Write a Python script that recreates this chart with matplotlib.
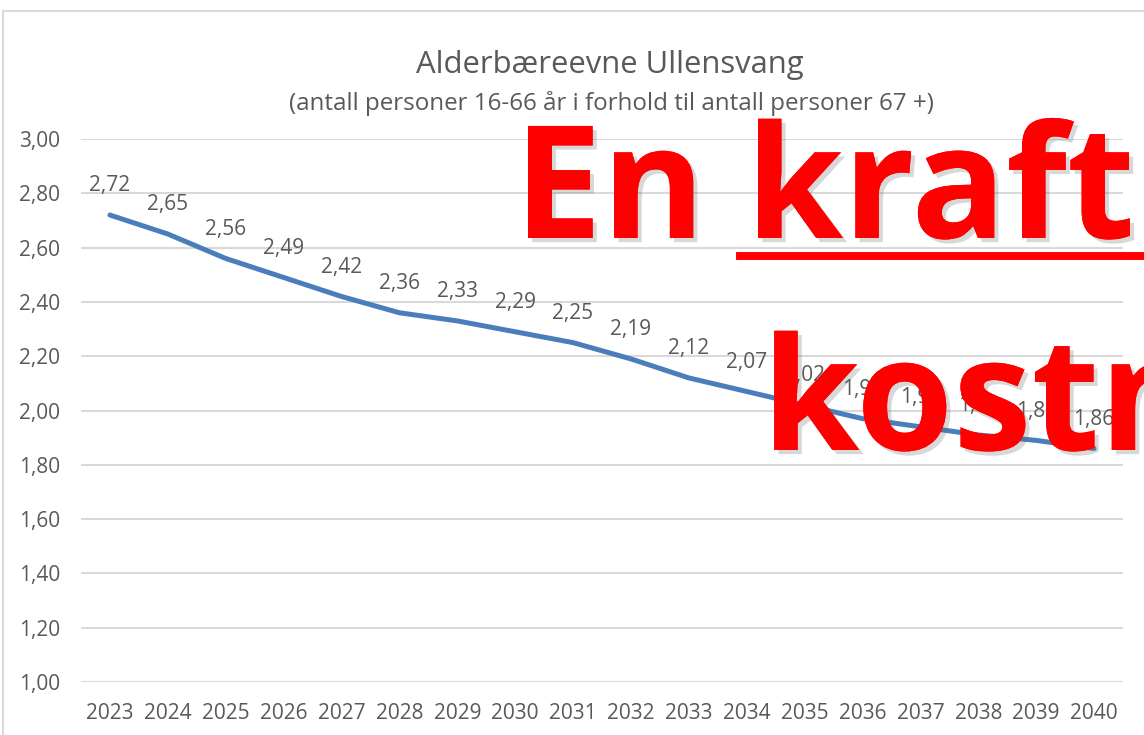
import numpy as np
import matplotlib
matplotlib.use("Agg")
from matplotlib import pyplot as plt
from matplotlib import patheffects as pe
from matplotlib.lines import Line2D
from matplotlib.patches import Rectangle

# data
years = [2023, 2024, 2025, 2026, 2027, 2028, 2029, 2030, 2031, 2032,
         2033, 2034, 2035, 2036, 2037, 2038, 2039, 2040]
ratio = [2.72, 2.65, 2.56, 2.49, 2.42, 2.36, 2.33, 2.29, 2.25, 2.19,
         2.12, 2.07, 2.02, 1.97, 1.94, 1.91, 1.89, 1.86]
yticks = [1.0, 1.2, 1.4, 1.6, 1.8, 2.0, 2.2, 2.4, 2.6, 2.8, 3.0]

title = "Alderbæreevne Ullensvang"
subtitle = "(antall personer 16-66 år i forhold til antall personer 67 +)"
overlay1 = "En kraftig"
overlay2 = "kostnadsvekst"

W, H = 1144, 735
plt.rcParams['font.family'] = ['Open Sans', 'DejaVu Sans']
grey = '#595959'

fig = plt.figure(figsize=(W / 100, H / 100), dpi=100)
ax = fig.add_axes([81 / W, 1 - 682 / H, (1123 - 81) / W, (682 - 139) / H])

x = np.arange(len(years))
ax.plot(x, ratio, color='#4A7EBB', lw=3.6, solid_capstyle='round',
        solid_joinstyle='round', zorder=3)

for i, v in zip(x, ratio):
    ax.annotate(f"{v:.2f}".replace('.', ','), (i, v), xytext=(0, 21),
                textcoords='offset points', ha='center', va='center',
                fontsize=15, color=grey, zorder=4)

ax.set_xlim(-0.5, len(years) - 0.5)
ax.set_ylim(1.0, 3.0)
ax.set_xticks(x)
ax.set_xticklabels([str(y) for y in years])
ax.set_yticks(yticks)
ax.set_yticklabels([f"{t:.2f}".replace('.', ',') for t in yticks])
ax.tick_params(axis='both', length=0, labelsize=15, labelcolor=grey)
ax.tick_params(axis='y', pad=15)
ax.tick_params(axis='x', pad=15)
ax.grid(axis='y', color='#D9D9D9', lw=1.5, zorder=0)
ax.set_axisbelow(True)
for s in ax.spines.values():
    s.set_visible(False)

# chart area border
fig.add_artist(Rectangle((3 / W, -0.1), 1.2, (H - 11) / H + 0.1,
                         transform=fig.transFigure, fill=False,
                         ec='#D9D9D9', lw=1.5))

fig.text(610 / W, 1 - 65 / H, title, ha='center', va='center',
         fontsize=22.3, color=grey)
fig.text(611 / W, 1 - 103 / H, subtitle, ha='center', va='center',
         fontsize=17.4, color=grey)

# red overlay text with shadow
shadow = [pe.withSimplePatchShadow(offset=(3, -3), shadow_rgbFace='#666666',
                                   alpha=0.25), pe.Normal()]
fig.text(514 / W, 1 - 238 / H, overlay1, ha='left', va='baseline',
         fontsize=113, fontweight='bold', color='#FF0000',
         zorder=10, path_effects=shadow)
fig.text(762 / W, 1 - 450 / H, overlay2, ha='left', va='baseline',
         fontsize=113, fontweight='bold', color='#FF0000',
         zorder=10, path_effects=shadow)
fig.add_artist(Line2D([740 / W, 1.05], [1 - 256 / H, 1 - 256 / H],
                      transform=fig.transFigure, color='#FF0000', lw=5.5,
                      zorder=10, path_effects=shadow))

fig.savefig('out.png', dpi=100)
